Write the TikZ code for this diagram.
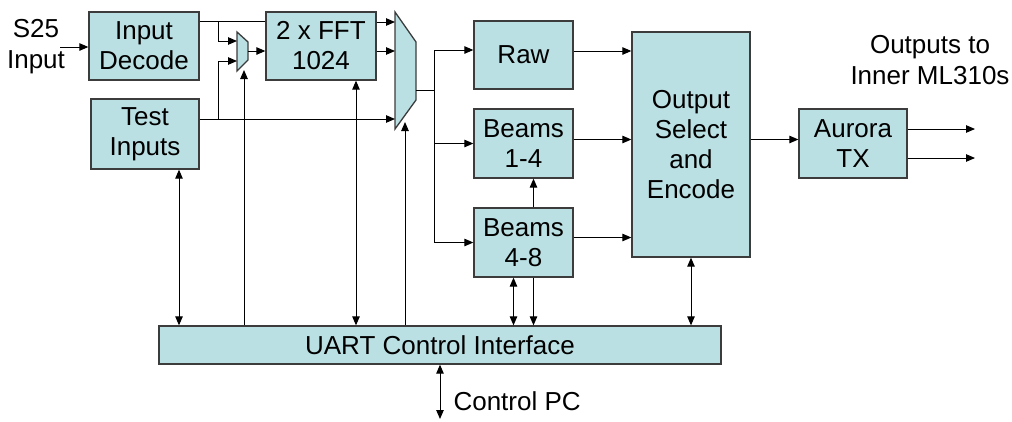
\documentclass[tikz,border=0pt]{standalone}
\usepackage{fontspec}
\setmainfont{Liberation Sans}
\usepackage{tikz}
\usetikzlibrary{arrows.meta}
\definecolor{boxfill}{RGB}{187,224,227}
\definecolor{boxedge}{RGB}{60,60,60}
\tikzset{
  wire/.style={black,line width=1pt},
  flow/.style={wire,-{Triangle[length=9pt,width=7.5pt]}},
  both/.style={wire,{Triangle[length=9pt,width=7.5pt]}-{Triangle[length=9pt,width=7.5pt]}},
  blk/.style={draw=boxedge,line width=1.3pt,fill=boxfill,inner sep=0pt,align=center,
              font=\fontsize{26}{30}\selectfont},
  mux/.style={draw=boxedge,line width=1.3pt,fill=boxfill,line join=miter},
  lab/.style={align=center,font=\fontsize{26}{31}\selectfont},
}

\begin{document}
\begin{tikzpicture}[x=1pt,y=-1pt]
  \path[use as bounding box] (0,0) rectangle (1012,421);

  \node[blk,minimum width=110pt,minimum height=68pt] (indec) at (144,46) {Input\\Decode};
  \node[blk,minimum width=108pt,minimum height=70pt] (testin) at (145,134) {Test\\Inputs};
  \node[blk,minimum width=110pt,minimum height=68pt] (fft) at (321,46) {2 x FFT\\1024};
  \node[blk,minimum width=99pt,minimum height=68pt] (raw) at (523.5,55) {Raw};
  \node[blk,minimum width=99pt,minimum height=69pt] (beamsa) at (523.5,143.5) {Beams\\1-4};
  \node[blk,minimum width=99pt,minimum height=69pt] (beamsb) at (523.5,242.5) {Beams\\4-8};
  \node[blk,minimum width=118pt,minimum height=225pt] (outsel) at (691,144.5)
    {Output\\Select\\and\\Encode};
  \node[blk,minimum width=108pt,minimum height=69pt] (aurora) at (853,143.5) {Aurora\\TX};
  \node[blk,minimum width=562pt,minimum height=38pt] (uart) at (440,345)
    {UART Control Interface};

  \node[lab] (s25) at (36,47) {S25\\Input};
  \node[lab] (outlab) at (930,60) {Outputs to\\Inner ML310s};
  \node[lab,anchor=west] (pclab) at (450,401) {Control PC};

  \draw[mux] (237,32) -- (248,42) -- (248,60) -- (237,71) -- cycle;
  \coordinate (smuxa) at (237,41);
  \coordinate (smuxb) at (237,61);
  \coordinate (smuxo) at (248,51);
  \coordinate (smuxs) at (244,70);
  \draw[mux] (395,12) -- (416,42) -- (416,100) -- (395,129) -- cycle;
  \coordinate (lmuxa) at (395,22);
  \coordinate (lmuxb) at (395,51);
  \coordinate (lmuxc) at (395,119);
  \coordinate (lmuxo) at (416,90);
  \coordinate (lmuxs) at (405,122);

  \coordinate (s25end) at (60,47);
  \coordinate (split1) at (218,21);
  \coordinate (split2) at (218,119);
  \coordinate (bus) at (434,90);
  \coordinate (outa) at (975,129);
  \coordinate (outb) at (975,158);
  \coordinate (pc) at (440,419);

  \draw[flow] (s25end) -- (s25end -| indec.west);
  \draw[wire] (indec.east |- split1) -- (fft.west |- split1);
  \draw[flow] (split1) |- (smuxa);
  \draw[flow] (split2) |- (smuxb);
  \draw[flow] (testin.east |- split2) -- (lmuxc);
  \draw[flow] (smuxo) -- (fft.west |- smuxo);
  \draw[flow] (fft.east |- lmuxa) -- (lmuxa);
  \draw[flow] (fft.east |- lmuxb) -- (lmuxb);

  \draw[wire] (lmuxo) -- (bus);
  \draw[flow] (bus) |- ([yshift=5pt]raw.west);
  \draw[flow] (bus) |- (beamsa.west);
  \draw[flow] (bus) |- (beamsb.west);
  \draw[flow] ([xshift=10pt]beamsb.north) -- ([xshift=10pt]beamsa.south);

  \draw[flow] ([yshift=4pt]raw.east) -- ([yshift=4pt]raw.east -| outsel.west);
  \draw[flow] ([yshift=4pt]beamsa.east) -- ([yshift=4pt]beamsa.east -| outsel.west);
  \draw[flow] ([yshift=5pt]beamsb.east) -- ([yshift=5pt]beamsb.east -| outsel.west);
  \draw[flow] ([yshift=4pt]aurora.west -| outsel.east) -- ([yshift=4pt]aurora.west);
  \draw[flow] (aurora.east |- outa) -- (outa);
  \draw[flow] (aurora.east |- outb) -- (outb);

  \draw[both] ([xshift=34pt]testin.south) -- ([xshift=34pt]testin.south |- uart.north);
  \draw[flow] (uart.north -| smuxs) -- (smuxs);
  \draw[both] ([xshift=35pt]fft.south) -- ([xshift=35pt]fft.south |- uart.north);
  \draw[flow] (uart.north -| lmuxs) -- (lmuxs);
  \draw[both] ([xshift=-10pt]beamsb.south) -- ([xshift=-10pt]beamsb.south |- uart.north);
  \draw[flow] ([xshift=10pt]beamsb.south) -- ([xshift=10pt]beamsb.south |- uart.north);
  \draw[both] (outsel.south) -- (outsel.south |- uart.north);
  \draw[both] (uart.south) -- (pc);
\end{tikzpicture}
\end{document}
